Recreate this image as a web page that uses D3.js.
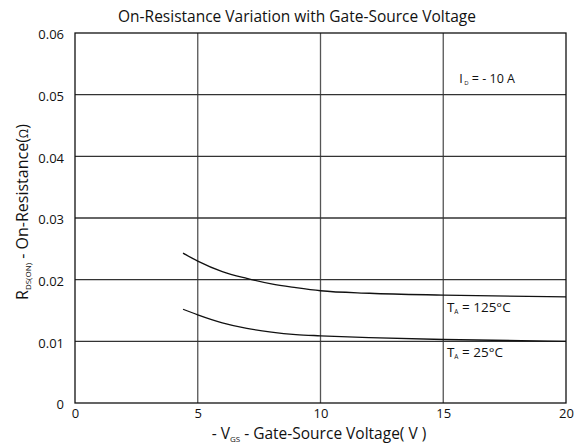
<!DOCTYPE html>
<html>
<head>
<meta charset="utf-8">
<script src="https://cdn.jsdelivr.net/npm/d3@7"></script>
<style>
  body { margin: 0; background: #fff; }
  text { font-family: "Open Sans", sans-serif; fill: #111; }
</style>
</head>
<body>
<div id="chart"></div>
<script>
// Values
const xTicks = [0, 5, 10, 15, 20];
const yTicks = [0, 0.01, 0.02, 0.03, 0.04, 0.05, 0.06];
const vgs = [4.4, 5, 6, 7, 8, 9, 10, 12, 15, 20];
const r125 = [0.0243, 0.0230, 0.0213, 0.0202, 0.0193, 0.0187, 0.0182, 0.0178, 0.0175, 0.0172];
const r25 = [0.0152, 0.0143, 0.0130, 0.0121, 0.0115, 0.0111, 0.0109, 0.0106, 0.0103, 0.0100];

const margin = { top: 33, right: 15, bottom: 41, left: 75 },
      width = 581 - margin.left - margin.right,
      height = 444 - margin.top - margin.bottom;

const svg = d3.select("#chart")
    .append("svg")
    .attr("width", 581)
    .attr("height", 444);

const g = svg.append("g")
    .attr("transform", `translate(${margin.left},${margin.top})`);

const x = d3.scaleLinear().domain([0, 20]).range([0, width]);
const y = d3.scaleLinear().domain([0, 0.06]).range([height, 0]);

// Grid lines
g.selectAll(".vgrid")
    .data(xTicks.slice(1, -1))
    .enter()
    .append("line")
    .attr("x1", d => x(d)).attr("x2", d => x(d))
    .attr("y1", 0).attr("y2", height)
    .attr("stroke", "#555").attr("stroke-width", 1.3);

g.selectAll(".hgrid")
    .data(yTicks.slice(1, -1))
    .enter()
    .append("line")
    .attr("x1", 0).attr("x2", width)
    .attr("y1", d => y(d)).attr("y2", d => y(d))
    .attr("stroke", "#333").attr("stroke-width", 1.3);

// Plot frame
g.append("rect")
    .attr("width", width).attr("height", height)
    .attr("fill", "none").attr("stroke", "#111").attr("stroke-width", 1.3);

// Axes (labels only)
const xAxis = g.append("g")
    .attr("transform", `translate(0,${height})`)
    .call(d3.axisBottom(x).tickValues(xTicks).tickSize(0).tickPadding(6).tickFormat(d3.format("d")));
const yAxis = g.append("g")
    .call(d3.axisLeft(y).tickValues(yTicks).tickSize(0).tickPadding(11)
        .tickFormat(d => d === 0 ? "0" : d3.format(".2f")(d)));
[xAxis, yAxis].forEach(a => {
    a.select(".domain").remove();
    a.selectAll("text").style("font-size", "13px").style("font-family", "Open Sans, sans-serif").attr("fill", "#111");
});
yAxis.selectAll("text").attr("dy", "0.45em");

// Curves
const line = d3.line()
    .x(d => x(d[0]))
    .y(d => y(d[1]))
    .curve(d3.curveMonotoneX);

[r125, r25].forEach(series => {
    g.append("path")
        .datum(vgs.map((v, i) => [v, series[i]]))
        .attr("d", line)
        .attr("fill", "none")
        .attr("stroke", "#111")
        .attr("stroke-width", 1.3);
});

// Title
svg.append("text")
    .attr("x", 297).attr("y", 22)
    .attr("text-anchor", "middle")
    .style("font-size", "15.5px")
    .text("On-Resistance Variation with Gate-Source Voltage");

// X label
const xl = svg.append("text")
    .attr("x", 319).attr("y", 439)
    .attr("text-anchor", "middle")
    .style("font-size", "15.5px");
xl.append("tspan").text("- V");
xl.append("tspan").attr("dy", 3).style("font-size", "8px").text("GS");
xl.append("tspan").attr("dy", -3).text(" - Gate-Source Voltage( V )");

// Y label
const yl = svg.append("text")
    .attr("transform", "translate(28,212) rotate(-90)")
    .attr("text-anchor", "middle")
    .style("font-size", "16px");
yl.append("tspan").text("R");
yl.append("tspan").attr("dy", 3).style("font-size", "8px").text("DS(ON)");
yl.append("tspan").attr("dy", -3).text(" - On-Resistance(");
yl.append("tspan").style("font-size", "12px").text("Ω");
yl.append("tspan").text(")");

// Annotations
const id = g.append("text")
    .attr("x", x(15.65)).attr("y", y(0.0519))
    .style("font-size", "12.5px");
id.append("tspan").text("I");
id.append("tspan").attr("dy", 2).style("font-size", "6px").text(" D");
id.append("tspan").attr("dy", -2).text(" = - 10 A");

[["125°C", 0.0148], ["25°C", 0.0074]].forEach(([t, v]) => {
    const lab = g.append("text")
        .attr("x", x(15.15)).attr("y", y(v))
        .style("font-size", "13.5px");
    lab.append("tspan").text("T");
    lab.append("tspan").attr("dy", 2).style("font-size", "6.5px").text("A");
    lab.append("tspan").attr("dy", -2).text("  = " + t);
});
</script>
</body>
</html>
